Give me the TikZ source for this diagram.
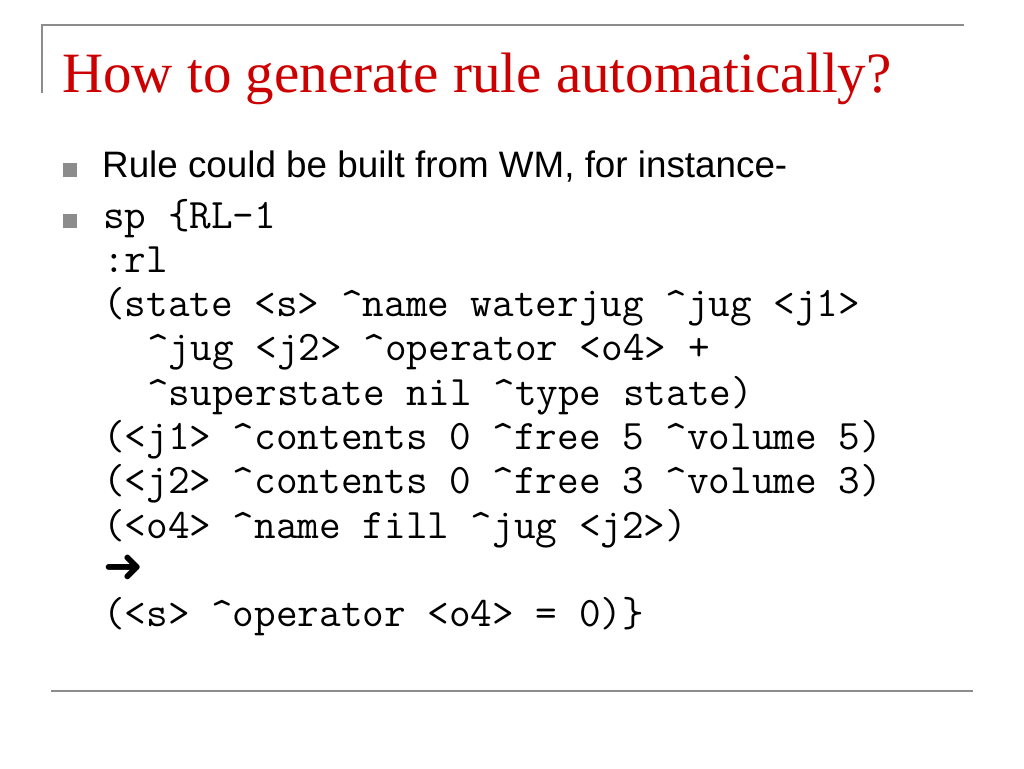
\documentclass[tikz,border=0pt]{standalone}
\usepackage{fontspec}
\usepackage{tikz}
\setmainfont{Liberation Serif}
\newfontfamily\bodyfont{Liberation Sans}
\newfontfamily\symfont{DejaVu Sans}
\definecolor{titlered}{RGB}{204,0,0}
\definecolor{rulegrey}{RGB}{140,140,140}

\begin{document}
\begin{tikzpicture}[x=1pt,y=-1pt,
  slideline/.style={rulegrey,line width=2.2pt},
  bulletsq/.style={fill=rulegrey,draw=none,minimum size=14pt,inner sep=0pt},
  codeline/.style={anchor=base west,inner sep=0pt,font=\ttfamily\fontsize{42}{44}\selectfont}]
\useasboundingbox (0,0) rectangle (1024,768);

\draw[slideline] (42,93) -- (42,25) -- (964,25);
\draw[slideline] (51,691) -- (973,691);

\node[anchor=base west,inner sep=0pt,text=titlered,font=\fontsize{57}{60}\selectfont] (title) at (62,92) {How to generate rule automatically?};

\node[bulletsq] (sq1) at (70,170) {};
\node[bulletsq] (sq2) at (70,221) {};
\node[anchor=base west,inner sep=0pt,font=\bodyfont\fontsize{36.8}{44}\selectfont] (bul1) at (102,177) {Rule could be built from WM, for instance-};

\foreach \ind/\txt [count=\i] in {
  0/{sp \{RL-1},
  0/{:rl},
  0/{(state <s> \textasciicircum name waterjug \textasciicircum jug <j1>},
  2/{\textasciicircum jug <j2> \textasciicircum operator <o4> +},
  2/{\textasciicircum superstate nil \textasciicircum type state)},
  0/{(<j1> \textasciicircum contents 0 \textasciicircum free 5 \textasciicircum volume 5)},
  0/{(<j2> \textasciicircum contents 0 \textasciicircum free 3 \textasciicircum volume 3)},
  0/{(<o4> \textasciicircum name fill \textasciicircum jug <j2>)},
  0/{\symfont\fontsize{48}{48}\selectfont ➜},
  0/{(<s> \textasciicircum operator <o4> = 0)\}}}{
\node[codeline] (code\i) at (103+22.05*\ind,228+44.3*\i-44.3) {\txt};}
\end{tikzpicture}
\end{document}
